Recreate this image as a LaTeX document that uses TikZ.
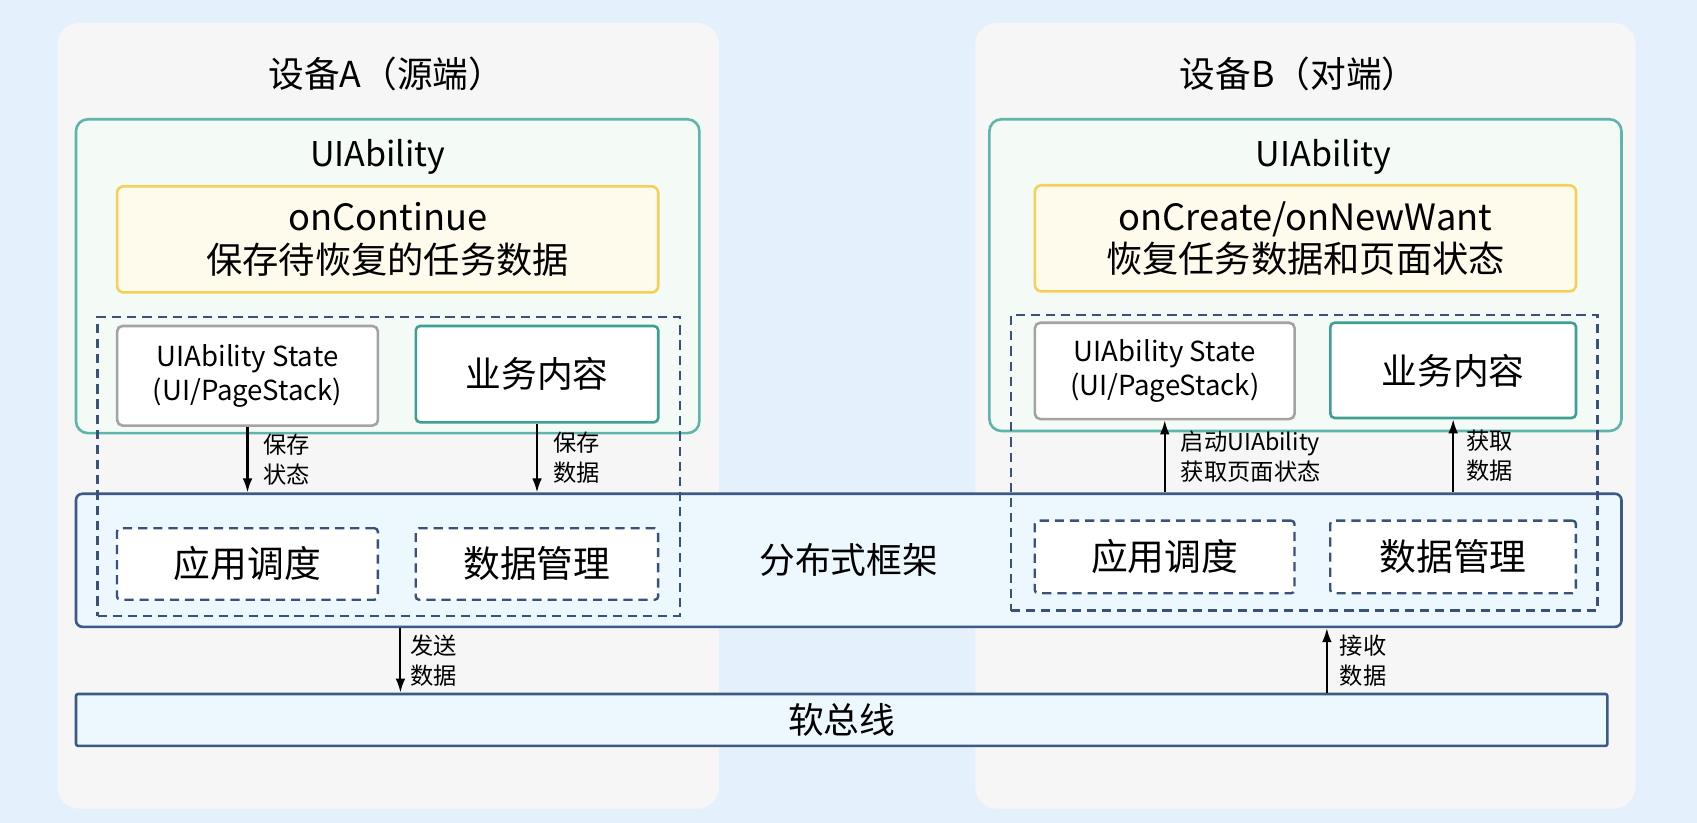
\documentclass[tikz,border=0pt]{standalone}
\usepackage{fontspec}
\setmainfont{Noto Sans CJK SC}
\usetikzlibrary{arrows.meta, positioning}

\definecolor{bgblue}{HTML}{E4F1FC}
\definecolor{panelgray}{HTML}{F6F6F6}
\definecolor{uiteal}{HTML}{5DB5AB}
\definecolor{uifill}{HTML}{F4FAF6}
\definecolor{yelline}{HTML}{F4CF5A}
\definecolor{yelfill}{HTML}{FFFBEC}
\definecolor{stategray}{HTML}{A3A3A3}
\definecolor{bizteal}{HTML}{3E9F93}
\definecolor{fwline}{HTML}{3D5A86}
\definecolor{fwfill}{HTML}{EDF7FE}
\definecolor{dashnavy}{HTML}{3A5279}

\tikzset{
  box/.style={draw, line width=2.4pt, anchor=north west, inner sep=0pt, align=center},
  panel/.style={box, draw=none, fill=panelgray, rounded corners=20pt},
  uibox/.style={box, draw=uiteal, fill=uifill, rounded corners=11pt},
  hookbox/.style={box, draw=yelline, fill=yelfill, rounded corners=6pt, font=\fontsize{33.5}{39}\selectfont},
  statebox/.style={box, draw=stategray, fill=white, rounded corners=5pt, font=\fontsize{25.5}{31}\selectfont},
  bizbox/.style={box, draw=bizteal, fill=white, rounded corners=4pt, font=\fontsize{33}{38}\selectfont},
  fwbox/.style={box, draw=fwline, fill=fwfill, rounded corners=6pt, font=\fontsize{33}{38}\selectfont},
  groupbox/.style={box, draw=dashnavy, line width=2.2pt, dash pattern=on 8.5pt off 5.5pt},
  svcbox/.style={groupbox, fill=white, rounded corners=3pt, font=\fontsize{34}{38}\selectfont},
  devtitle/.style={font=\fontsize{33}{38}\selectfont},
  arr/.style={line width=1.9pt, -{Latex[length=13pt,width=9pt]}},
  lbl/.style={align=left, font=\fontsize{21.5}{28}\selectfont, inner sep=0pt, xshift=14pt},
}

\begin{document}
\begin{tikzpicture}[x=1pt, y=-1pt]
    \useasboundingbox (0,0) rectangle (1568,760);
    \fill[bgblue] (0,0) rectangle (1568,760);

    % devices
    \node[panel, minimum width=611pt, minimum height=726pt] (devA) at (52,20) {};
    \node[panel, minimum width=610pt, minimum height=726pt] (devB) at (900,20) {};
    \node[devtitle] (titleA) at (357,68) {设备A（源端）};
    \node[devtitle] (titleB) at (1200,68) {设备B（对端）};

    % UIAbility
    \node[uibox, minimum width=576pt, minimum height=290pt] (uiA) at (69,109) {};
    \node[uibox, minimum width=584pt, minimum height=288pt] (uiB) at (913,109) {};
    \node[devtitle, font=\fontsize{31.5}{38}\selectfont] (uiAtxt) at (349,145) {UIAbility};
    \node[devtitle, font=\fontsize{31.5}{38}\selectfont] (uiBtxt) at (1223,145) {UIAbility};
    \node[hookbox, minimum width=500pt, minimum height=98pt] (hookA) at (107,171) {onContinue\\保存待恢复的任务数据};
    \node[hookbox, minimum width=500pt, minimum height=98pt] (hookB) at (955,170) {onCreate/onNewWant\\恢复任务数据和页面状态};

    % framework and bus
    \node[fwbox, minimum width=1428pt, minimum height=123pt] (fw) at (69,455) {分布式框架};
    \node[fwbox, rounded corners=2pt, minimum width=1415pt, minimum height=48pt] (bus) at (69,640) {软总线};

    % dashed groups
    \node[groupbox, minimum width=538pt, minimum height=276pt] (grpA) at (89,292) {};
    \node[groupbox, minimum width=542pt, minimum height=273pt] (grpB) at (933,290) {};

    \node[statebox, minimum width=241pt, minimum height=92pt] (stateA) at (107,300) {UIAbility State\\(UI/PageStack)};
    \node[bizbox, minimum width=224pt, minimum height=89pt] (bizA) at (383,300) {业务内容};
    \node[statebox, minimum width=240pt, minimum height=89pt] (stateB) at (955,297) {UIAbility State\\(UI/PageStack)};
    \node[bizbox, minimum width=227pt, minimum height=88pt] (bizB) at (1228,297) {业务内容};

    \node[svcbox, minimum width=241pt, minimum height=66pt] (schedA) at (107,487) {应用调度};
    \node[svcbox, minimum width=224pt, minimum height=66pt] (dataA) at (383,487) {数据管理};
    \node[svcbox, minimum width=240pt, minimum height=67pt] (schedB) at (955,480) {应用调度};
    \node[svcbox, minimum width=227pt, minimum height=67pt] (dataB) at (1228,480) {数据管理};

    % arrows
    \coordinate (sendA) at (370,0);
    \coordinate (recvB) at (1226,0);
    \draw[arr] (stateA.south) -- (stateA.south |- fw.north) node[lbl, midway, right] {保存\\状态};
    \draw[arr] (bizA.south) -- (bizA.south |- fw.north) node[lbl, midway, right] {保存\\数据};
    \draw[arr] (fw.south -| sendA) -- (bus.north -| sendA) node[lbl, midway, right, xshift=-6pt] {发送\\数据};
    \draw[arr] (stateB.south |- fw.north) -- (stateB.south) node[lbl, midway, right] {启动UIAbility\\获取页面状态};
    \draw[arr] (bizB.south |- fw.north) -- (bizB.south) node[lbl, midway, right, xshift=-3pt] {获取\\数据};
    \draw[arr] (bus.north -| recvB) -- (fw.south -| recvB) node[lbl, midway, right, xshift=-3pt] {接收\\数据};
\end{tikzpicture}
\end{document}
